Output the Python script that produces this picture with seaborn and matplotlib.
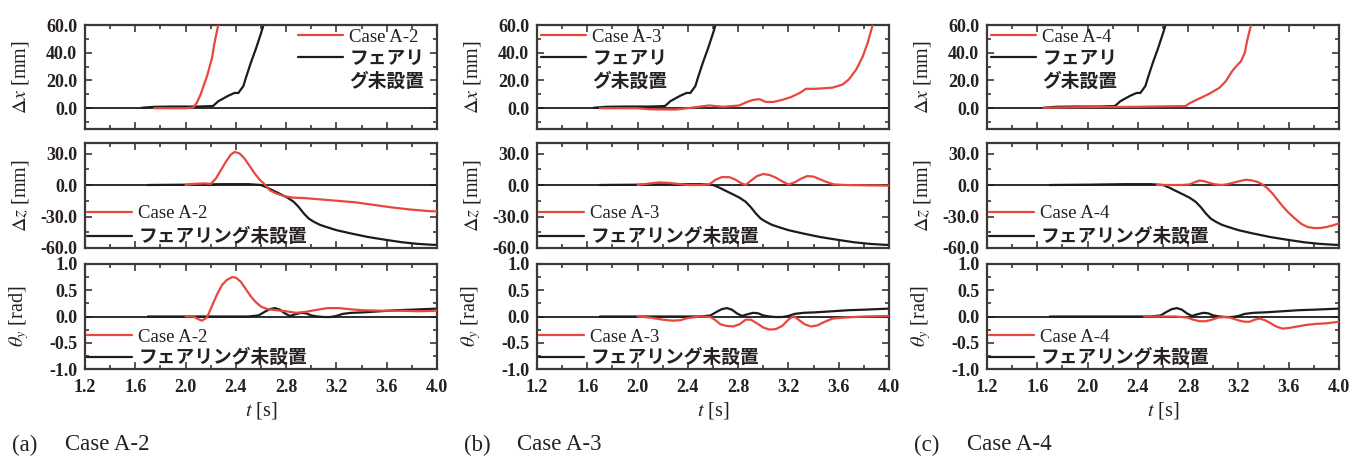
import numpy as np
import matplotlib
matplotlib.use("Agg")
import matplotlib.pyplot as plt
from matplotlib.lines import Line2D
from matplotlib.ticker import MultipleLocator, FormatStrFormatter
import seaborn as sns

# ---------------------------------------------------------------------------
# Data: time histories of displacement / rotation
# ---------------------------------------------------------------------------
# Reference case without fairing (same in every column)
t_ref_dx = [1.65, 1.75, 1.9, 2.1, 2.2, 2.22, 2.26, 2.34, 2.39, 2.42, 2.46, 2.48, 2.52, 2.56, 2.6, 2.62, 2.64]
ref_dx = [0.3, 1.0, 1.2, 1.2, 1.5, 1.7, 5.0, 9.0, 11.0, 11.0, 16.0, 22.0, 33.0, 43.0, 54.0, 60.0, 64.0]

t_ref_dz = [1.7, 2.0, 2.3, 2.5, 2.6, 2.65, 2.7, 2.76, 2.81, 2.86, 2.9, 2.94, 2.98, 3.02, 3.07,
            3.12, 3.2, 3.31, 3.45, 3.58, 3.72, 3.84, 3.97, 4.0]
ref_dz = [0.0, 0.3, 0.8, 0.8, 0.0, -2.5, -5.5, -9.0, -12.0, -16.0, -21.0, -27.0, -32.0, -35.0, -38.0,
          -40.0, -43.0, -46.0, -49.5, -52.0, -54.5, -56.0, -57.0, -57.0]

t_ref_th = [1.7, 2.5, 2.58, 2.63, 2.67, 2.71, 2.75, 2.79, 2.83, 2.87, 2.92, 2.96, 3.0, 3.05, 3.1,
            3.15, 3.2, 3.25, 3.32, 3.42, 3.55, 3.68, 3.8, 3.9, 4.0]
ref_th = [0.0, 0.0, 0.02, 0.09, 0.14, 0.16, 0.13, 0.06, 0.01, 0.04, 0.07, 0.06, 0.02, 0.0, -0.01,
          -0.01, 0.01, 0.05, 0.07, 0.08, 0.10, 0.12, 0.13, 0.14, 0.15]

# Case A-2
t_a2_dx = [1.75, 2.0, 2.06, 2.09, 2.12, 2.17, 2.21, 2.23, 2.26, 2.27]
a2_dx = [0.0, 0.0, 0.5, 4.0, 10.0, 23.0, 36.0, 47.0, 60.0, 64.0]

t_a2_dz = [2.0, 2.06, 2.15, 2.2, 2.24, 2.28, 2.32, 2.36, 2.39, 2.43, 2.47, 2.51, 2.55, 2.59,
           2.63, 2.67, 2.72, 2.78, 2.85, 2.95, 3.05, 3.2, 3.35, 3.5, 3.65, 3.8, 3.95, 4.0]
a2_dz = [0.0, 1.0, 1.5, 1.0, 6.0, 14.0, 22.0, 29.0, 31.5, 30.0, 25.0, 18.0, 11.0, 5.0,
         0.5, -5.0, -8.0, -10.5, -12.0, -12.5, -13.5, -15.0, -16.5, -19.0, -21.5, -23.5, -25.0, -25.0]

t_a2_th = [2.0, 2.06, 2.1, 2.13, 2.17, 2.21, 2.25, 2.29, 2.33, 2.37, 2.4, 2.44, 2.48, 2.52, 2.56,
           2.6, 2.65, 2.72, 2.8, 2.88, 2.96, 3.05, 3.13, 3.22, 3.3, 3.4, 3.55, 3.7, 3.85, 4.0]
a2_th = [0.0, 0.0, -0.05, -0.08, -0.02, 0.2, 0.42, 0.6, 0.7, 0.75, 0.74, 0.66, 0.52, 0.38, 0.27,
         0.19, 0.14, 0.12, 0.10, 0.07, 0.09, 0.13, 0.16, 0.16, 0.14, 0.12, 0.11, 0.11, 0.10, 0.11]

# Case A-3
t_a3_dx = [1.7, 2.0, 2.1, 2.3, 2.4, 2.5, 2.57, 2.62, 2.68, 2.75, 2.81, 2.87, 2.92, 2.97, 3.02,
           3.08, 3.15, 3.22, 3.29, 3.34, 3.42, 3.5, 3.55, 3.63, 3.68, 3.74, 3.79, 3.83, 3.87, 3.89]
a3_dx = [0.0, 0.0, -0.8, -1.0, 0.0, 1.2, 2.0, 1.5, 1.0, 1.5, 2.0, 4.5, 6.0, 6.5, 4.5,
         4.5, 6.0, 8.0, 11.0, 14.0, 14.0, 14.5, 14.8, 17.0, 20.7, 28.0, 37.0, 47.0, 60.0, 66.0]

t_a3_dz = [2.0, 2.1, 2.17, 2.25, 2.33, 2.4, 2.5, 2.57, 2.62, 2.67, 2.73, 2.78, 2.82, 2.86, 2.9,
           2.95, 3.0, 3.05, 3.1, 3.15, 3.2, 3.25, 3.3, 3.35, 3.4, 3.45, 3.5, 3.56, 3.65, 3.8, 4.0]
a3_dz = [0.0, 1.5, 2.5, 2.0, 1.0, 0.0, 0.0, 0.5, 5.0, 7.5, 7.5, 5.0, 2.0, 0.0, 4.0,
         8.5, 10.5, 9.5, 7.0, 3.5, 0.5, 2.5, 6.0, 8.5, 8.0, 5.5, 3.0, 0.6, 0.0, -0.3, -0.6]

t_a3_th = [2.0, 2.1, 2.2, 2.28, 2.34, 2.4, 2.5, 2.58, 2.62, 2.66, 2.71, 2.76, 2.81, 2.86, 2.9,
           2.95, 3.0, 3.05, 3.1, 3.15, 3.2, 3.24, 3.28, 3.33, 3.38, 3.43, 3.48, 3.55, 3.65, 3.8, 4.0]
a3_th = [0.0, -0.02, -0.06, -0.08, -0.07, -0.03, 0.0, -0.01, -0.07, -0.15, -0.18, -0.19, -0.15, -0.06, -0.06,
         -0.13, -0.21, -0.25, -0.24, -0.18, -0.06, 0.01, -0.06, -0.15, -0.19, -0.17, -0.11, -0.04, -0.02, 0.0, 0.01]

# Case A-4
t_a4_dx = [1.65, 2.0, 2.4, 2.6, 2.78, 2.81, 2.89, 2.97, 3.05, 3.1, 3.15, 3.18, 3.22, 3.25, 3.27, 3.3, 3.31]
a4_dx = [0.3, 0.8, 1.0, 1.3, 1.5, 3.5, 7.0, 10.5, 14.8, 19.5, 26.7, 30.0, 33.8, 39.8, 49.0, 60.0, 64.0]

t_a4_dz = [2.55, 2.65, 2.75, 2.81, 2.85, 2.89, 2.93, 2.97, 3.02, 3.07, 3.12, 3.17, 3.22, 3.26, 3.3,
           3.35, 3.39, 3.43, 3.47, 3.51, 3.55, 3.6, 3.65, 3.7, 3.75, 3.8, 3.85, 3.9, 3.95, 4.0]
a4_dz = [0.0, 0.0, 0.0, 0.6, 2.5, 4.3, 3.5, 2.0, 0.5, 0.0, 1.0, 2.5, 4.0, 5.0, 4.5,
         3.0, 0.6, -3.0, -8.0, -14.0, -20.0, -26.5, -32.0, -37.0, -40.0, -41.0, -41.0, -40.0, -38.5, -36.5]

t_a4_th = [2.45, 2.6, 2.7, 2.79, 2.84, 2.89, 2.94, 2.99, 3.04, 3.09, 3.13, 3.17, 3.21, 3.25, 3.29,
           3.33, 3.37, 3.41, 3.45, 3.5, 3.55, 3.6, 3.67, 3.74, 3.82, 3.9, 4.0]
a4_th = [0.0, 0.0, 0.0, -0.02, -0.06, -0.09, -0.09, -0.06, -0.02, -0.01, -0.02, -0.05, -0.08, -0.1, -0.1,
         -0.06, -0.04, -0.07, -0.12, -0.19, -0.23, -0.22, -0.19, -0.16, -0.14, -0.13, -0.1]

case_names = ["Case A-2", "Case A-3", "Case A-4"]
panel_tags = ["(a)", "(b)", "(c)"]
ref_name = "フェアリング未設置"
ref_name_wrapped = ["フェアリ", "グ未設置"]

case_series = [
    [(t_a2_dx, a2_dx), (t_a2_dz, a2_dz), (t_a2_th, a2_th)],
    [(t_a3_dx, a3_dx), (t_a3_dz, a3_dz), (t_a3_th, a3_th)],
    [(t_a4_dx, a4_dx), (t_a4_dz, a4_dz), (t_a4_th, a4_th)],
]
ref_series = [(t_ref_dx, ref_dx), (t_ref_dz, ref_dz), (t_ref_th, ref_th)]

# ---------------------------------------------------------------------------
# Style
# ---------------------------------------------------------------------------
sns.set_theme(style="ticks")
plt.rcParams["font.family"] = ["Liberation Serif", "Noto Sans CJK JP"]
plt.rcParams["mathtext.fontset"] = "stix"
plt.rcParams["axes.unicode_minus"] = False

RED = "#e8473d"
BLACK = "#1c1c1c"
SPINE = "#3f3636"
TEXT = "#262020"

W, H = 1359, 457
fig = plt.figure(figsize=(W / 100, H / 100), dpi=100)

col_left = [85, 537, 987]
col_w = 352
row_px = [(25, 129), (143, 248), (264, 369)]

ylims = [(-15, 60), (-60, 40), (-1.0, 1.0)]
ymajor = [20, 30, 0.5]
yminor = [10, 15, 0.25]
ylabels = [r"$\Delta x$ [mm]", r"$\Delta z$ [mm]", r"$\theta_y$ [rad]"]

LEG_FS = 13.5


def make_axes(x0, y0, x1, y1):
    return fig.add_axes([x0 / W, 1 - y1 / H, (x1 - x0) / W, (y1 - y0) / H])


for c in range(3):
    for r in range(3):
        y0, y1 = row_px[r]
        ax = make_axes(col_left[c], y0, col_left[c] + col_w, y1)
        ax.axhline(0, color=BLACK, lw=1.3, zorder=1)

        tr, vr = ref_series[r]
        tc, vc = case_series[c][r]
        sns.lineplot(x=tc, y=vc, ax=ax, color=RED, lw=1.6, zorder=3)
        sns.lineplot(x=tr, y=vr, ax=ax, color=BLACK, lw=1.6, zorder=2)

        ax.set_xlim(1.2, 4.0)
        ax.set_ylim(*ylims[r])
        ax.xaxis.set_major_locator(MultipleLocator(0.4))
        ax.xaxis.set_minor_locator(MultipleLocator(0.2))
        ax.yaxis.set_major_locator(MultipleLocator(ymajor[r]))
        ax.yaxis.set_minor_locator(MultipleLocator(yminor[r]))
        ax.xaxis.set_major_formatter(FormatStrFormatter("%.1f"))
        ax.yaxis.set_major_formatter(FormatStrFormatter("%.1f"))
        ax.tick_params(which="both", direction="in", top=True, right=True,
                       color=SPINE, width=1.2)
        ax.tick_params(which="major", length=5)
        ax.tick_params(which="minor", length=3)
        ax.tick_params(axis="y", labelsize=13, pad=5.5, labelcolor=TEXT)
        ax.tick_params(axis="x", labelsize=13, pad=7, labelcolor=TEXT)
        for lab in ax.get_yticklabels() + ax.get_xticklabels():
            lab.set_fontweight("bold")
        for sp in ax.spines.values():
            sp.set_color(SPINE)
            sp.set_linewidth(1.6)
        ax.grid(False)

        ax.set_ylabel(ylabels[r], fontsize=14.5, color=TEXT)
        ax.yaxis.set_label_coords(-0.152, 0.5)
        if r < 2:
            ax.tick_params(axis="x", labelbottom=False)
            ax.set_xlabel("")
        else:
            ax.set_xlabel(r"$t$ [s]", fontsize=14.5, color=TEXT, labelpad=3)

        h_case = Line2D([], [], color=RED, lw=1.6)
        h_ref = Line2D([], [], color=BLACK, lw=1.6)
        if r == 0:
            h_blank = Line2D([], [], linestyle="none")
            handles = [h_case, h_ref, h_blank]
            labels = [case_names[c]] + ref_name_wrapped
            if c == 0:
                leg = ax.legend(handles, labels, loc="upper right", bbox_to_anchor=(0.975, 1.0),
                                frameon=False, fontsize=LEG_FS, handlelength=2.4,
                                handletextpad=0.35, borderaxespad=0.05, borderpad=0.15,
                                labelspacing=0.25)
            else:
                leg = ax.legend(handles, labels, loc="upper left",
                                frameon=False, fontsize=LEG_FS, handlelength=2.4,
                                handletextpad=0.35, borderaxespad=0.05, borderpad=0.15,
                                labelspacing=0.25)
            for txt in leg.get_texts()[1:]:
                txt.set_fontweight("bold")
        else:
            leg = ax.legend([h_case, h_ref], [case_names[c], ref_name], loc="lower left",
                            frameon=False, fontsize=LEG_FS, handlelength=2.4,
                            handletextpad=0.35, borderaxespad=0.05, borderpad=0.05,
                            labelspacing=0.3 if r == 1 else 0.15)
            leg.get_texts()[1].set_fontweight("bold")
        for txt in leg.get_texts():
            txt.set_color(TEXT)

    # sub-figure caption
    cap_y = 1 - 445 / H
    fig.text((col_left[c] - 73) / W, cap_y, panel_tags[c], fontsize=16.5, color=TEXT, va="center")
    fig.text((col_left[c] - 20) / W, cap_y, case_names[c], fontsize=16.5, color=TEXT, va="center")

fig.savefig("out.png", dpi=100, facecolor="white")
